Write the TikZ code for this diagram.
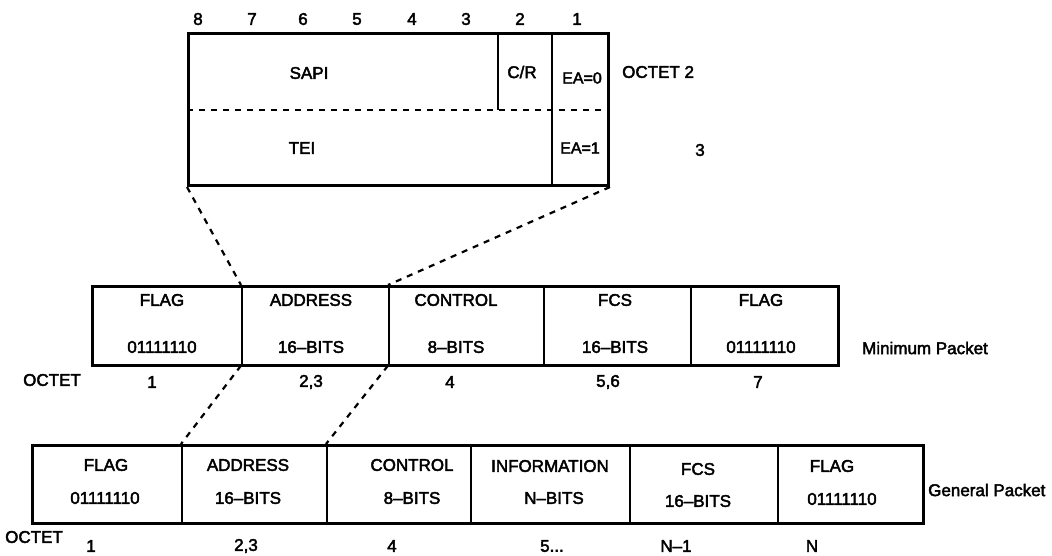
\documentclass[tikz,border=0pt]{standalone}
\usepackage{fontspec}
\setmainfont{Liberation Sans}[BoldFont={Liberation Sans},BoldFeatures={FakeBold=2.5}]
\begin{document}
\begin{tikzpicture}[x=1pt,y=-1pt,
  font=\fontsize{17}{20}\selectfont\bfseries,
  outer/.style={draw, line width=3pt, inner sep=0pt, anchor=north west},
  field/.style={draw, line width=1.6pt, inner sep=0pt, anchor=north west},
  divider/.style={line width=1.6pt},
  txt/.style={inner sep=0pt},
  zoomline/.style={line width=2.2pt, dash pattern=on 6pt off 6pt}]
\useasboundingbox (0,0) rectangle (1052,555);

% ---------------- top: address field detail ----------------
\node[outer, minimum width=420pt, minimum height=152pt] (addr) at (187,32) {};
\coordinate (crtop) at (498,32);
\coordinate (crbot) at (498,110);
\coordinate (eatop) at (552,32);
\coordinate (eabot) at (552,184);
\coordinate (dashl) at (187,110);
\coordinate (dashr) at (607,110);
\draw[divider] (crtop) -- (crbot);
\draw[divider] (eatop) -- (eabot);
\draw[zoomline] (dashl) -- (dashr);

\foreach \b/\x in {8/198,7/252,6/303,5/357,4/412,3/466,2/520,1/577}
  \node[txt] (bit\b) at (\x,19) {\b};
\node[txt] (sapi) at (309,73) {SAPI};
\node[txt] (cr) at (522,72) {C/R};
\node[txt] (ea0) at (582,78) {\fontsize{16}{18}\selectfont EA=0};
\node[txt] (tei) at (302,148) {TEI};
\node[txt] (ea1) at (580,148) {\fontsize{16}{18}\selectfont EA=1};
\node[txt, anchor=west] (oct2) at (622,72) {OCTET 2};
\node[txt] (oct3) at (700,150) {3};

% ---------------- minimum packet ----------------
\node[field, minimum width=150pt, minimum height=79pt] (m1) at (91,285) {};
\node[field, minimum width=147pt, minimum height=79pt] (m2) at (241,285) {};
\node[field, minimum width=155pt, minimum height=79pt] (m3) at (388,285) {};
\node[field, minimum width=147pt, minimum height=79pt] (m4) at (543,285) {};
\node[field, minimum width=147pt, minimum height=79pt] (m5) at (690,285) {};
\node[outer, minimum width=746pt, minimum height=79pt] (minpkt) at (91,285) {};

\node[txt] (m1a) at (162,300) {FLAG};
\node[txt] (m1b) at (162,347) {01111110};
\node[txt] (m2a) at (311,300) {ADDRESS};
\node[txt] (m2b) at (311,347) {16--BITS};
\node[txt] (m3a) at (456,300) {CONTROL};
\node[txt] (m3b) at (456,347) {8--BITS};
\node[txt] (m4a) at (615,300) {FCS};
\node[txt] (m4b) at (615,347) {16--BITS};
\node[txt] (m5a) at (761,300) {FLAG};
\node[txt] (m5b) at (761,347) {01111110};
\node[txt, anchor=west] (minlbl) at (862,348) {Minimum Packet};

\node[txt] (moct) at (52,380) {OCTET};
\node[txt] (mn1) at (152,382) {1};
\node[txt] (mn2) at (311,382) {2,3};
\node[txt] (mn3) at (450,382) {4};
\node[txt] (mn4) at (608,382) {5,6};
\node[txt] (mn5) at (758,382) {7};

% ---------------- general packet ----------------
\node[field, minimum width=150pt, minimum height=78pt] (g1) at (31,444) {};
\node[field, minimum width=145pt, minimum height=78pt] (g2) at (181,444) {};
\node[field, minimum width=144pt, minimum height=78pt] (g3) at (326,444) {};
\node[field, minimum width=159pt, minimum height=78pt] (g4) at (470,444) {};
\node[field, minimum width=148pt, minimum height=78pt] (g5) at (629,444) {};
\node[field, minimum width=145pt, minimum height=78pt] (g6) at (777,444) {};
\node[outer, minimum width=891pt, minimum height=78pt] (genpkt) at (31,444) {};

\node[txt] (g1a) at (106,465) {FLAG};
\node[txt] (g1b) at (105,498) {01111110};
\node[txt] (g2a) at (248,465) {ADDRESS};
\node[txt] (g2b) at (248,498) {16--BITS};
\node[txt] (g3a) at (412,465) {CONTROL};
\node[txt] (g3b) at (412,498) {8--BITS};
\node[txt] (g4a) at (550,466) {INFORMATION};
\node[txt] (g4b) at (554,498) {N--BITS};
\node[txt] (g5a) at (698,469) {FCS};
\node[txt] (g5b) at (698,501) {16--BITS};
\node[txt] (g6a) at (832,466) {FLAG};
\node[txt] (g6b) at (842,499) {01111110};
\node[txt, anchor=west] (genlbl) at (928,490) {General Packet};

\node[txt] (goct) at (34,537) {OCTET};
\node[txt] (gn1) at (91,546) {1};
\node[txt] (gn2) at (246,546) {2,3};
\node[txt] (gn3) at (392,546) {4};
\node[txt] (gn4) at (552,546) {5...};
\node[txt] (gn5) at (676,546) {N--1};
\node[txt] (gn6) at (812,546) {N};

% ---------------- zoom connectors ----------------
\draw[zoomline] (addr.south west) -- (m2.north west);
\draw[zoomline] (addr.south east) -- (m3.north west);
\draw[zoomline] (m2.south west) -- (g2.north west);
\draw[zoomline] (m3.south west) -- (g3.north west);
\end{tikzpicture}
\end{document}
